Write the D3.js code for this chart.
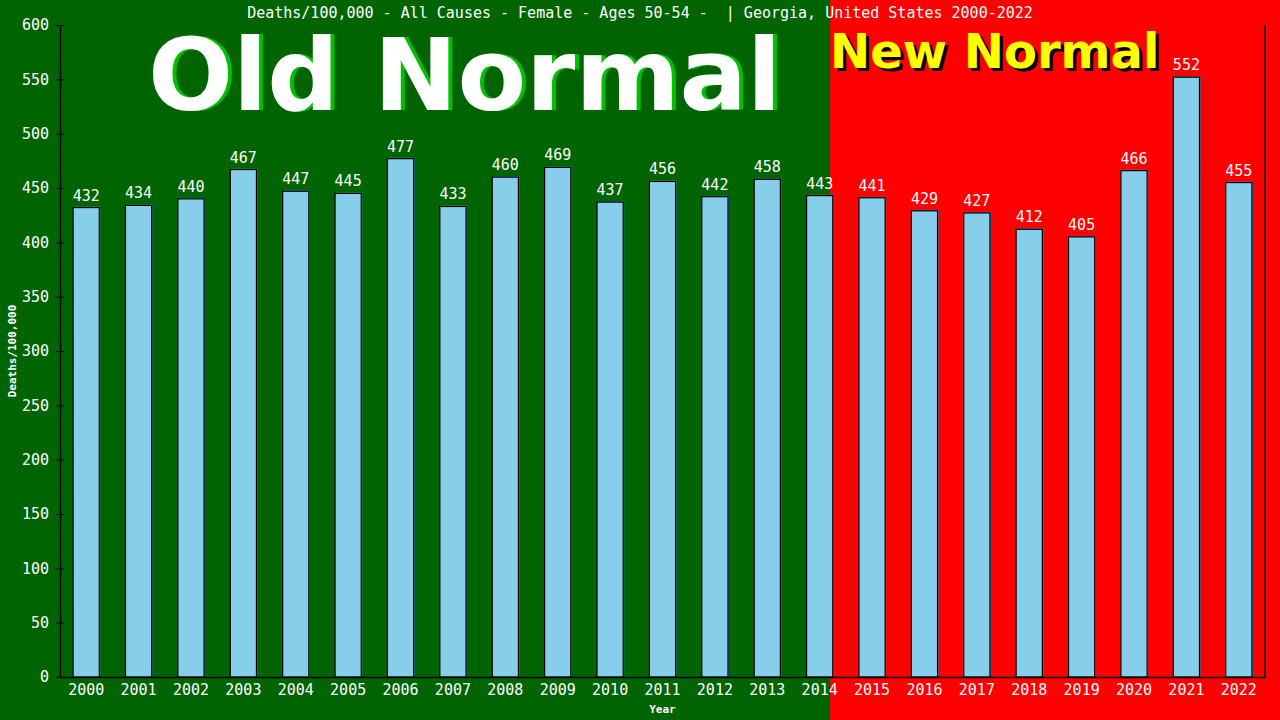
<!DOCTYPE html>
<html>
<head>
<meta charset="utf-8">
<script src="https://cdn.jsdelivr.net/npm/d3@7"></script>
<style>
  body { margin: 0; background: #006400; }
  svg { display: block; }
</style>
</head>
<body>
<script>
// data
var years = ["2000","2001","2002","2003","2004","2005","2006","2007","2008","2009","2010","2011",
  "2012","2013","2014","2015","2016","2017","2018","2019","2020","2021","2022"];
var deaths = [432,434,440,467,447,445,477,433,460,469,437,456,442,458,443,441,429,427,412,405,466,552,455];
var yTicks = [0,50,100,150,200,250,300,350,400,450,500,550,600];
var splitYear = "2014";

var W = 1280, H = 720;
var plotL = 60, plotR = 1265, plotT = 25, plotB = 677;

var svg = d3.select("body").append("svg")
	.attr("width", W)
	.attr("height", H)
;

var x = d3.scaleBand()
	.domain(years)
	.range([plotL, plotR])
	.paddingInner(0.5)
	.paddingOuter(0.25)
;
var y = d3.scaleLinear()
	.domain([0, 600])
	.range([plotB, plotT])
;

var splitX = x(splitYear) + x.bandwidth() * 0.9;

// background halves
svg.append("rect")
	.attr("width", splitX).attr("height", H)
	.style("fill", "#006400");
svg.append("rect")
	.attr("x", splitX).attr("width", W - splitX).attr("height", H)
	.style("fill", "#ff0000");

// big captions
var oldG = svg.append("g")
	.attr("font-family", "DejaVu Sans")
	.attr("font-weight", "bold")
	.attr("font-size", 100);
oldG.append("text").attr("x", 152).attr("y", 110).attr("fill", "#00c000").text("Old Normal");
oldG.append("text").attr("x", 148).attr("y", 110).attr("fill", "#ffffff").text("Old Normal");

var newG = svg.append("g")
	.attr("font-family", "DejaVu Sans")
	.attr("font-weight", "bold")
	.attr("font-size", 48);
newG.append("text").attr("x", 833).attr("y", 71).attr("fill", "#000000").text("New Normal");
newG.append("text").attr("x", 830).attr("y", 68).attr("fill", "#ffff00").text("New Normal");

// title
svg.append("text")
	.attr("x", 640)
	.attr("y", 18)
	.attr("text-anchor", "middle")
	.attr("font-family", "DejaVu Sans Mono")
	.attr("font-size", 15)
	.attr("fill", "white")
	.attr("xml:space", "preserve")
	.text("Deaths/100,000 - All Causes - Female - Ages 50-54 -  | Georgia, United States 2000-2022")
;

// bars: shadow then bar
svg.selectAll("rect.shadow")
	.data(deaths)
	.enter().append("rect")
		.attr("class", "shadow")
		.attr("x", function(d,i) { return x(years[i]) + 1; })
		.attr("y", function(d) { return y(d) - 1; })
		.attr("width", x.bandwidth())
		.attr("height", function(d) { return plotB - y(d); })
		.style("fill", "#3f7fb5")
;
svg.selectAll("rect.bar")
	.data(deaths)
	.enter().append("rect")
		.attr("class", "bar")
		.attr("x", function(d,i) { return x(years[i]); })
		.attr("y", function(d) { return y(d); })
		.attr("width", x.bandwidth())
		.attr("height", function(d) { return plotB - y(d); })
		.style("fill", "#87ceeb")
		.style("stroke", "#000")
		.style("stroke-width", 1.2)
;

// value labels
svg.selectAll("text.val")
	.data(deaths)
	.enter().append("text")
		.attr("class", "val")
		.attr("x", function(d,i) { return x(years[i]) + x.bandwidth() / 2; })
		.attr("y", function(d) { return y(d) - 7; })
		.attr("text-anchor", "middle")
		.attr("font-family", "DejaVu Sans Mono")
		.attr("font-size", 15)
		.attr("fill", "white")
		.text(function(d) { return d; })
;

// y axis
var yAxis = svg.append("g")
	.attr("transform", "translate(" + plotL + ",0)")
	.call(d3.axisLeft(y).tickValues(yTicks).tickSize(4).tickPadding(7).tickSizeOuter(0))
;
yAxis.selectAll(".tick line").attr("x1", 4).attr("stroke", "#000");
yAxis.select(".domain").attr("stroke", "#000").attr("stroke-width", 1.5);
yAxis.selectAll("text")
	.attr("font-family", "DejaVu Sans Mono")
	.attr("font-size", 15)
	.attr("fill", "white")
;

// x axis
var xAxis = svg.append("g")
	.attr("transform", "translate(0," + plotB + ")")
	.call(d3.axisBottom(x).tickSize(0).tickSizeOuter(0))
;
xAxis.select(".domain").attr("stroke", "#000").attr("stroke-width", 1.5);
xAxis.selectAll("text")
	.attr("y", 18)
	.attr("dy", 0)
	.attr("font-family", "DejaVu Sans Mono")
	.attr("font-size", 15)
	.attr("fill", "white")
;

// right border
svg.append("line")
	.attr("x1", plotR).attr("x2", plotR)
	.attr("y1", plotT).attr("y2", plotB)
	.style("stroke", "#000")
	.style("stroke-width", 1.5)
;

// axis titles
svg.append("text")
	.attr("x", (plotL + plotR) / 2)
	.attr("y", 713)
	.attr("text-anchor", "middle")
	.attr("font-family", "DejaVu Sans Mono")
	.attr("font-weight", "bold")
	.attr("font-size", 11)
	.attr("fill", "white")
	.text("Year")
;
svg.append("text")
	.attr("transform", "translate(16," + (plotT + plotB) / 2 + ")rotate(-90)")
	.attr("text-anchor", "middle")
	.attr("font-family", "DejaVu Sans Mono")
	.attr("font-weight", "bold")
	.attr("font-size", 11)
	.attr("fill", "white")
	.text("Deaths/100,000")
;
</script>
</body>
</html>
